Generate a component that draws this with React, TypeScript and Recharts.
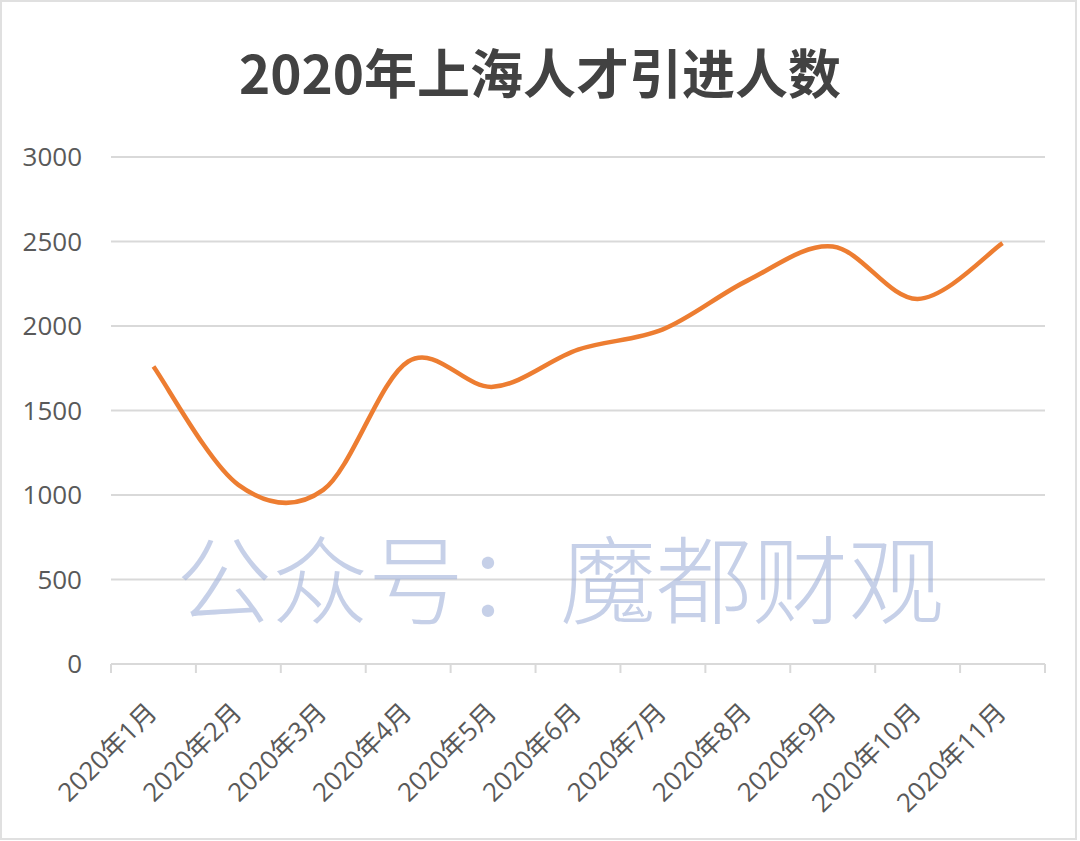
import React from "react";
import { LineChart, Line, XAxis, YAxis, CartesianGrid } from "recharts";

const months = [
  "2020年1月", "2020年2月", "2020年3月", "2020年4月", "2020年5月", "2020年6月",
  "2020年7月", "2020年8月", "2020年9月", "2020年10月", "2020年11月",
];
const talents = [1760, 1060, 1030, 1790, 1640, 1860, 1980, 2270, 2470, 2160, 2490];
const yTicks = [0, 500, 1000, 1500, 2000, 2500, 3000];
const title = "2020年上海人才引进人数";
const watermark = "公众号：魔都财观";

const data = months.map((m, i) => ({ month: m, value: talents[i] }));

const FONT = '"Open Sans", "Noto Sans CJK SC", sans-serif';

// Excel-like smoothing (uniform Catmull-Rom as cubic Bezier)
function smoothCurve(context: any) {
  let pts: [number, number][] = [];
  return {
    areaStart() {},
    areaEnd() {},
    lineStart() {
      pts = [];
    },
    lineEnd() {
      const n = pts.length;
      if (!n) return;
      context.moveTo(pts[0][0], pts[0][1]);
      for (let i = 0; i < n - 1; i++) {
        const p0 = pts[i - 1] || pts[i];
        const p1 = pts[i];
        const p2 = pts[i + 1];
        const p3 = pts[i + 2] || p2;
        context.bezierCurveTo(
          p1[0] + (p2[0] - p0[0]) / 6,
          p1[1] + (p2[1] - p0[1]) / 6,
          p2[0] - (p3[0] - p1[0]) / 6,
          p2[1] - (p3[1] - p1[1]) / 6,
          p2[0],
          p2[1]
        );
      }
    },
    point(x: number, y: number) {
      pts.push([+x, +y]);
    },
  };
}

const XTick = (props: any) => {
  const { x, y, payload, index } = props;
  const half = payload && payload.offset ? payload.offset : 0;
  const last = index === months.length - 1;
  const ax = x + 5;
  const ay = y + 50;
  return (
    <g>
      <line x1={x - half} y1={y} x2={x - half} y2={y + 9} stroke="#d9d9d9" strokeWidth={2} />
      {last && (
        <line x1={x + half} y1={y} x2={x + half} y2={y + 9} stroke="#d9d9d9" strokeWidth={2} />
      )}
      <text
        x={ax}
        y={ay}
        transform={`rotate(-45, ${ax}, ${ay})`}
        textAnchor="end"
        fill="#595959"
        fontSize={26}
        fontFamily={FONT}
      >
        {payload.value}
      </text>
    </g>
  );
};

export default function App() {
  return (
    <div
      style={{
        position: "absolute",
        left: 0,
        top: 0,
        width: 1080,
        height: 841,
        background: "#ffffff",
        overflow: "hidden",
      }}
    >
      <div
        style={{
          position: "absolute",
          left: 0,
          top: 0,
          width: 1077,
          height: 840,
          boxSizing: "border-box",
          border: "2px solid #e0e0e0",
        }}
      />
      <div
        style={{
          position: "absolute",
          left: 0,
          top: 34,
          width: 1080,
          textAlign: "center",
          fontFamily: '"Noto Sans CJK SC", sans-serif',
          fontWeight: 700,
          fontSize: 53,
          lineHeight: "74px",
          color: "#424242",
        }}
      >
        {title}
      </div>
      <div style={{ position: "absolute", left: 0, top: 0 }}>
        <LineChart
          width={1080}
          height={841}
          data={data}
          margin={{ top: 157, right: 35, bottom: 0, left: 0 }}
        >
          <CartesianGrid horizontal vertical={false} stroke="#d9d9d9" strokeWidth={2} />
          <XAxis
            dataKey="month"
            scale="band"
            interval={0}
            height={177}
            tickSize={0}
            tickMargin={0}
            tickLine={false}
            axisLine={{ stroke: "#d9d9d9", strokeWidth: 2 }}
            tick={<XTick />}
          />
          <YAxis
            width={111}
            domain={[0, 3000]}
            ticks={yTicks}
            interval={0}
            axisLine={false}
            tickLine={false}
            tickSize={0}
            tickMargin={29}
            tick={{ fill: "#595959", fontSize: 26, fontFamily: FONT }}
          />
          <Line
            dataKey="value"
            type={smoothCurve as any}
            stroke="#ED7D31"
            strokeWidth={4.5}
            dot={false}
            activeDot={false}
            isAnimationActive={false}
          />
        </LineChart>
      </div>
      <div
        style={{
          position: "absolute",
          left: 176,
          top: 520,
          whiteSpace: "nowrap",
          fontFamily: '"Noto Sans CJK SC", sans-serif',
          fontWeight: 300,
          fontSize: 96,
          lineHeight: "110px",
          color: "rgba(160, 176, 216, 0.6)",
          pointerEvents: "none",
        }}
      >
        {watermark}
      </div>
    </div>
  );
}
